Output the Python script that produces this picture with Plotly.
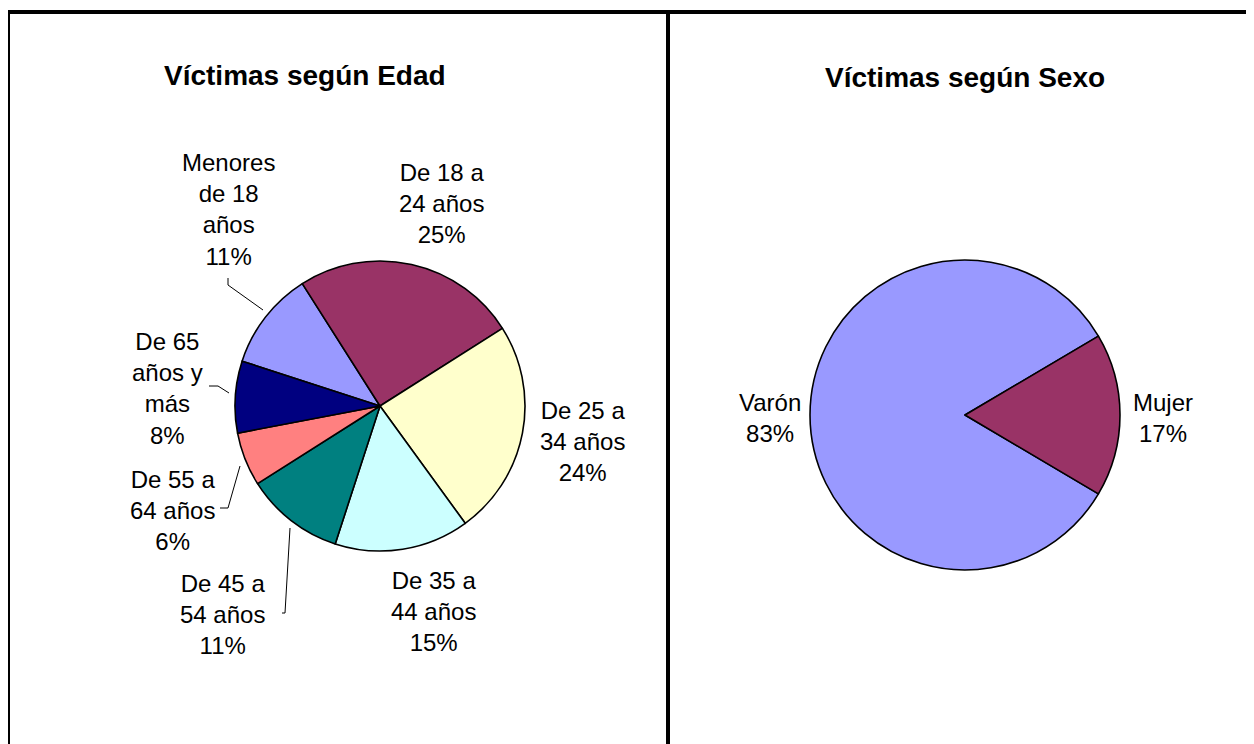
import plotly.graph_objects as go

# page body has an 8px margin; figure is sized to fit the window
OFF = 8
W, H = 1254 - OFF, 744 - OFF

# ---- data ----
age_labels = ["Menores de 18 años", "De 18 a 24 años", "De 25 a 34 años",
              "De 35 a 44 años", "De 45 a 54 años", "De 55 a 64 años",
              "De 65 años y más"]
age_label_lines = ["Menores<br>de 18<br>años", "De 18 a<br>24 años", "De 25 a<br>34 años",
                   "De 35 a<br>44 años", "De 45 a<br>54 años", "De 55 a<br>64 años",
                   "De 65<br>años y<br>más"]
age_values = [11, 25, 24, 15, 11, 6, 8]
age_colors = ["#9999FF", "#993366", "#FFFFCC", "#CCFFFF", "#008080", "#FF8080", "#000080"]

sex_labels = ["Varón", "Mujer"]
sex_values = [83, 17]
sex_colors = ["#9999FF", "#993366"]

# ---- layout helpers (window pixel -> paper) ----
def px(x):
    return (x - OFF) / W

def py(y):
    return 1 - (y - OFF) / H

FONT = "Liberation Sans, Arial, sans-serif"

fig = go.Figure()

# left pie: center (380,406), r 145
fig.add_trace(go.Pie(
    labels=age_labels, values=age_values, sort=False, direction="clockwise",
    rotation=288, textinfo="none", hoverinfo="label+percent",
    marker=dict(colors=age_colors, line=dict(color="black", width=1.6)),
    domain=dict(x=[px(235), px(525)], y=[py(551), py(261)]),
    showlegend=False,
))

# right pie: center (965,415), r 155
fig.add_trace(go.Pie(
    labels=sex_labels, values=sex_values, sort=False, direction="clockwise",
    rotation=120.6, textinfo="none", hoverinfo="label+percent",
    marker=dict(colors=sex_colors, line=dict(color="black", width=1.6)),
    domain=dict(x=[px(810), px(1120)], y=[py(570), py(260)]),
    showlegend=False,
))

annotations = []

def pct(vals, i):
    return round(vals[i] / sum(vals) * 100)

LBL = 24
age_label_pos = [(228, 210), (441, 203), (582, 441), (433, 611),
                 (222, 614), (173, 510), (168, 388)]
for i, (x, y) in enumerate(age_label_pos):
    annotations.append(dict(
        x=px(x), y=py(y), xref="paper", yref="paper", xanchor="center", yanchor="middle",
        text=f"{age_label_lines[i]}<br>{pct(age_values, i)}%", showarrow=False, align="center",
        font=dict(family=FONT, size=LBL, color="black")))

sex_label_pos = [(770, 418), (1163, 418)]
for i, (x, y) in enumerate(sex_label_pos):
    annotations.append(dict(
        x=px(x), y=py(y), xref="paper", yref="paper", xanchor="center", yanchor="middle",
        text=f"{sex_labels[i]}<br>{pct(sex_values, i)}%", showarrow=False, align="center",
        font=dict(family=FONT, size=LBL, color="black")))

annotations.append(dict(x=px(305), y=py(75), xref="paper", yref="paper",
                        xanchor="center", yanchor="middle", showarrow=False,
                        text="<b>Víctimas según Edad</b>",
                        font=dict(family=FONT, size=28, color="black")))
annotations.append(dict(x=px(965), y=py(77), xref="paper", yref="paper",
                        xanchor="center", yanchor="middle", showarrow=False,
                        text="<b>Víctimas según Sexo</b>",
                        font=dict(family=FONT, size=28, color="black")))

shapes = []
# panel borders
shapes.append(dict(type="line", xref="paper", yref="paper", x0=px(6), x1=px(1254), y0=py(12), y1=py(12),
                   line=dict(color="black", width=4)))
shapes.append(dict(type="line", xref="paper", yref="paper", x0=px(8), x1=px(8), y0=py(10), y1=py(744),
                   line=dict(color="black", width=4)))
shapes.append(dict(type="line", xref="paper", yref="paper", x0=px(668), x1=px(668), y0=py(10), y1=py(744),
                   line=dict(color="black", width=4)))

# leader lines
leaders = [
    [(228, 278), (228, 285), (263, 310)],
    [(209, 386), (218, 386), (229, 393)],
    [(220, 508), (228, 508), (240, 466)],
    [(282, 613), (285, 613), (290, 528)],
]
for pts in leaders:
    path = "M " + " L ".join(f"{px(x)},{py(y)}" for x, y in pts)
    shapes.append(dict(type="path", xref="paper", yref="paper", path=path,
                       line=dict(color="black", width=1)))

fig.update_layout(
    width=W, height=H, margin=dict(l=0, r=0, t=0, b=0),
    paper_bgcolor="white", plot_bgcolor="white",
    annotations=annotations, shapes=shapes,
)

fig.write_html("out.html")
